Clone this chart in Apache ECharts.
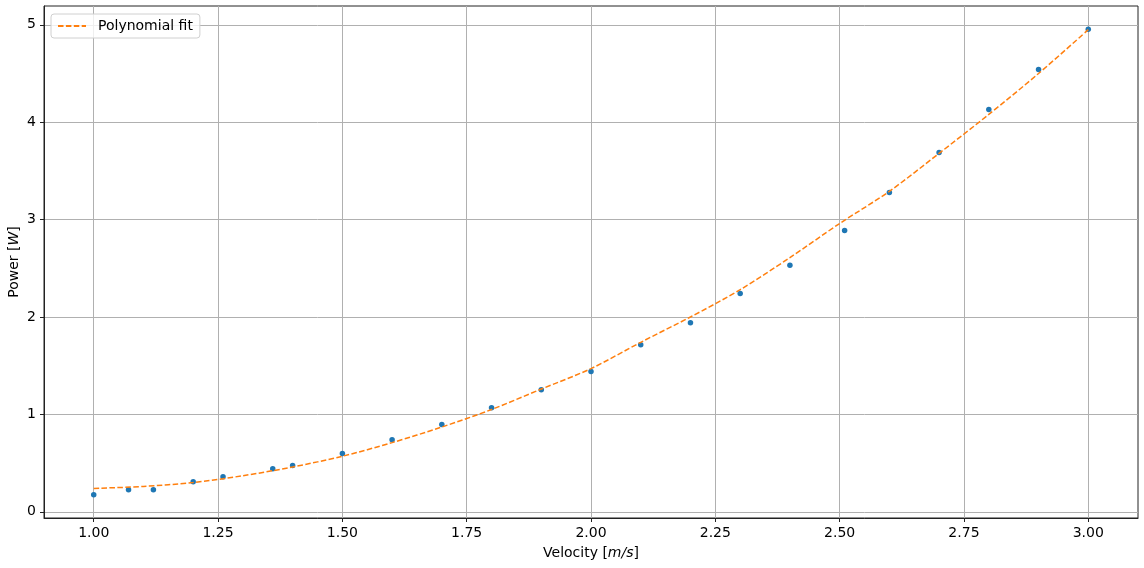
<!DOCTYPE html>
<html>
<head>
<meta charset="utf-8">
<script src="https://cdn.jsdelivr.net/npm/echarts@6/dist/echarts.min.js"></script>
<style>html,body{margin:0;padding:0;background:#fff}#c{width:1144px;height:568px}</style>
</head>
<body>
<div id="c"></div>
<script>
const velocity = [1.00,1.07,1.12,1.20,1.26,1.36,1.40,1.50,1.60,1.70,1.80,1.90,2.00,2.10,2.20,2.30,2.40,2.51,2.60,2.70,2.80,2.90,3.00];
const power = [0.175,0.226,0.226,0.308,0.360,0.442,0.476,0.599,0.740,0.896,1.069,1.254,1.439,1.716,1.942,2.240,2.530,2.888,3.278,3.690,4.130,4.540,4.954];
const fitX = [1.0,1.1,1.2,1.3,1.4,1.5,1.6,1.7,1.8,1.9,2.0,2.1,2.2,2.3,2.4,2.5,2.6,2.7,2.8,2.9,3.0];
const fitY = [0.24,0.26,0.30,0.37,0.46,0.57,0.71,0.87,1.05,1.26,1.47,1.74,2.00,2.28,2.61,2.96,3.29,3.68,4.08,4.50,4.95];
const xTicks = [1.00,1.25,1.50,1.75,2.00,2.25,2.50,2.75,3.00];
const yTicks = [0,1,2,3,4,5];

const FONT = 'DejaVu Sans';
const chart = echarts.init(document.getElementById('c'), null, {renderer:'canvas'});
const gridLine = {show:true, lineStyle:{color:'#b0b0b0', width:1}};
chart.setOption({
  animation:false,
  backgroundColor:'#fff',
  textStyle:{fontFamily:FONT},
  grid:{left:44, right:6, top:6, bottom:50, containLabel:false, outerBoundsMode:'none', show:true, borderColor:'#222', borderWidth:1, backgroundColor:'transparent'},
  legend:{
    show:true, left:51, top:14, orient:'vertical',
    data:['Polynomial fit'],
    itemWidth:28, itemHeight:14,
    padding:[5,7,5,6],
    borderColor:'#d0d0d0', borderWidth:1, borderRadius:3,
    backgroundColor:'rgba(255,255,255,0.8)',
    itemStyle:{color:'rgba(0,0,0,0)', borderWidth:0, opacity:0},
    textStyle:{fontFamily:FONT, fontSize:14, color:'#000', padding:[0,0,0,7]}
  },
  xAxis:{
    type:'value', min:0.9, max:3.1,
    name:'{n|Velocity [}{i|m/s}{n|]}', nameLocation:'middle', nameGap:28, nameMoveOverlap:false,
    nameTextStyle:{rich:{n:{fontFamily:FONT,fontSize:14,color:'#000'}, i:{fontFamily:FONT,fontSize:14,fontStyle:'italic',color:'#000'}}},
    axisLine:{show:true, onZero:false, lineStyle:{color:'#222', width:1}},
    axisTick:{show:true, length:4, customValues:xTicks, lineStyle:{color:'#222'}},
    axisLabel:{customValues:xTicks, margin:8, fontFamily:FONT, fontSize:14, color:'#000', formatter:v=>Number(v).toFixed(2)},
    splitLine:gridLine
  },
  yAxis:{
    type:'value', min:-0.064, max:5.193,
    name:'{n|Power [}{i|W}{n|]}', nameLocation:'middle', nameGap:23, nameMoveOverlap:false,
    nameTextStyle:{rich:{n:{fontFamily:FONT,fontSize:14,color:'#000'}, i:{fontFamily:FONT,fontSize:14,fontStyle:'italic',color:'#000'}}},
    axisLine:{show:true, onZero:false, lineStyle:{color:'#222', width:1}},
    axisTick:{show:true, length:4, customValues:yTicks, lineStyle:{color:'#222'}},
    axisLabel:{customValues:yTicks, margin:8, fontFamily:FONT, fontSize:14, color:'#000', formatter:v=>String(Math.round(v))},
    splitLine:gridLine
  },
  series:[
    {
      name:'Data', type:'scatter', data:velocity.map((v,i)=>[v,power[i]]),
      symbol:'circle', symbolSize:5.5, itemStyle:{color:'#1f77b4', opacity:1}, z:2
    },
    {
      name:'Polynomial fit', type:'line', data:fitX.map((v,i)=>[v,fitY[i]]),
      smooth:0.3, showSymbol:false, symbol:'none',
      lineStyle:{color:'#ff7f0e', width:1.5, type:[5.5,2.4]}, itemStyle:{color:'#ff7f0e'}, z:3
    }
  ]
});
</script>
</body>
</html>
